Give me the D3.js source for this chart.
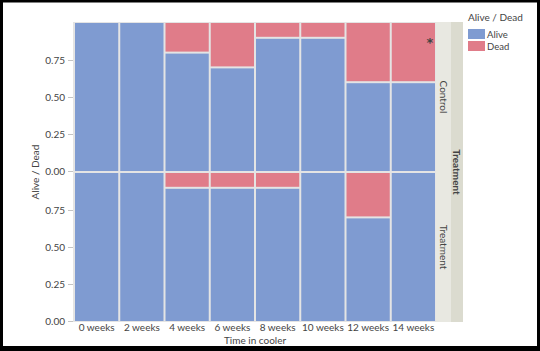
<!DOCTYPE html>
<html lang="en">
<head>
    <meta charset="UTF-8">
    <title>Alive / Dead mosaic</title>
    <script src="https://d3js.org/d3.v7.min.js"></script>
    <style>
        body { margin: 0; background: #fff; }
        svg text { font-family: Lato, "Open Sans", sans-serif; fill: #444; }
    </style>
</head>
<body>
    <div id="chart-container"></div>

    <script>
        // Data
        const weeks = ["0 weeks", "2 weeks", "4 weeks", "6 weeks", "8 weeks", "10 weeks", "12 weeks", "14 weeks"];
        const groups = ["Control", "Treatment"];
        const aliveControl = [1.0, 1.0, 0.8, 0.7, 0.9, 0.9, 0.6, 0.6];
        const aliveTreatment = [1.0, 1.0, 0.9, 0.9, 0.9, 1.0, 0.7, 1.0];
        const yTicks = [0, 0.25, 0.5, 0.75];
        const statusNames = ["Alive", "Dead"];
        const statusColors = ["#7f9bd1", "#e07c89"];

        const width = 540;
        const height = 351;
        const plotLeft = 74, plotRight = 436;
        const panels = [{top: 23, bottom: 171}, {top: 173, bottom: 321}];

        const svg = d3.select("#chart-container")
            .append("svg")
            .attr("width", width)
            .attr("height", height);

        // black frame
        svg.append("rect")
            .attr("x", 1.5).attr("y", 1)
            .attr("width", width - 3).attr("height", height - 3.5)
            .attr("fill", "none").attr("stroke", "#000").attr("stroke-width", 3);
        svg.append("rect")
            .attr("x", 0).attr("y", 346).attr("width", width).attr("height", 5)
            .attr("fill", "#000");

        const xScale = d3.scaleBand()
            .domain(weeks)
            .range([plotLeft, plotRight]);

        const color = d3.scaleOrdinal().domain(statusNames).range(statusColors);

        const series = [aliveControl, aliveTreatment];

        // plot background (shows through as gaps)
        svg.append("rect")
            .attr("x", plotLeft - 1).attr("y", panels[0].top - 1)
            .attr("width", plotRight - plotLeft + 1)
            .attr("height", panels[1].bottom - panels[0].top + 2)
            .attr("fill", "#e4e4e4");

        panels.forEach((p, i) => {
            const yScale = d3.scaleLinear().domain([0, 1]).range([p.bottom, p.top]);
            const rows = weeks.map((w, j) => ({week: w, alive: series[i][j]}));
            const g = svg.append("g");

            // alive segments
            g.selectAll("rect.alive")
                .data(rows)
                .enter()
                .append("rect")
                .attr("class", "alive")
                .attr("x", d => xScale(d.week) + 1)
                .attr("width", xScale.bandwidth() - 2)
                .attr("y", d => yScale(d.alive) + (d.alive < 1 ? 1 : 0))
                .attr("height", d => yScale(0) - yScale(d.alive) - (d.alive < 1 ? 1 : 0))
                .attr("fill", color("Alive"));

            // dead segments
            g.selectAll("rect.dead")
                .data(rows.filter(d => d.alive < 1))
                .enter()
                .append("rect")
                .attr("class", "dead")
                .attr("x", d => xScale(d.week) + 1)
                .attr("width", xScale.bandwidth() - 2)
                .attr("y", yScale(1))
                .attr("height", d => yScale(d.alive) - yScale(1) - 1)
                .attr("fill", color("Dead"));

            // y axis
            const yAxis = d3.axisLeft(yScale)
                .tickValues(yTicks)
                .tickFormat(d3.format(".2f"))
                .tickSize(5)
                .tickPadding(3);
            const ax = svg.append("g")
                .attr("transform", `translate(${plotLeft - 1}, 0)`)
                .call(yAxis);
            ax.select(".domain").remove();
            ax.selectAll(".tick line").attr("stroke", "#c4c4c4");
            ax.selectAll(".tick text").attr("font-size", "10px")
                .style("font-family", "Lato, sans-serif").attr("fill", "#444");

            // inner strip
            svg.append("rect")
                .attr("x", plotRight).attr("y", p.top - 1)
                .attr("width", 15).attr("height", p.bottom - p.top + 2)
                .attr("fill", "#e8e8e1");
            svg.append("text")
                .attr("transform", `translate(${plotRight + 4}, ${(p.top + p.bottom) / 2}) rotate(90)`)
                .attr("text-anchor", "middle")
                .attr("font-size", "10px")
                .attr("fill", "#222")
                .text(groups[i]);
        });

        // outer strip
        svg.append("rect")
            .attr("x", plotRight + 15).attr("y", panels[0].top - 1)
            .attr("width", 12).attr("height", panels[1].bottom - panels[0].top + 2)
            .attr("fill", "#dbdbcf");
        svg.append("text")
            .attr("transform", `translate(${plotRight + 17}, ${(panels[0].top + panels[1].bottom) / 2}) rotate(90)`)
            .attr("text-anchor", "middle")
            .attr("font-size", "10px")
            .attr("font-weight", "bold")
            .attr("fill", "#222")
            .text("Treatment");

        // x axis labels
        const xAxis = d3.axisBottom(xScale).tickSize(0).tickPadding(3);
        const xg = svg.append("g")
            .attr("transform", `translate(0, ${panels[1].bottom})`)
            .call(xAxis);
        xg.select(".domain").remove();
        xg.selectAll(".tick text").attr("font-size", "10px")
            .style("font-family", "Lato, sans-serif").attr("fill", "#444");

        // axis titles
        svg.append("text")
            .attr("x", (plotLeft + plotRight) / 2)
            .attr("y", 344)
            .attr("text-anchor", "middle")
            .attr("font-size", "10px")
            .text("Time in cooler");
        svg.append("text")
            .attr("transform", `translate(39, ${(panels[0].top + panels[1].bottom) / 2}) rotate(-90)`)
            .attr("text-anchor", "middle")
            .attr("font-size", "10px")
            .text("Alive / Dead");

        // asterisk marker on 14 weeks control
        svg.append("text")
            .attr("x", xScale("14 weeks") + xScale.bandwidth() - 6)
            .attr("y", 47)
            .attr("text-anchor", "middle")
            .attr("font-size", "13px")
            .attr("font-weight", "bold")
            .style("font-family", "'DejaVu Sans', sans-serif")
            .attr("fill", "#111")
            .text("*");

        // legend
        svg.append("text")
            .attr("x", 468).attr("y", 21)
            .attr("font-size", "10px")
            .text("Alive / Dead");
        statusNames.forEach((s, i) => {
            svg.append("rect")
                .attr("x", 468).attr("y", 29 + i * 12)
                .attr("width", 17).attr("height", 10)
                .attr("fill", color(s));
            svg.append("text")
                .attr("x", 487).attr("y", 37.5 + i * 12)
                .attr("font-size", "9.5px")
                .text(s);
        });
    </script>
</body>
</html>
